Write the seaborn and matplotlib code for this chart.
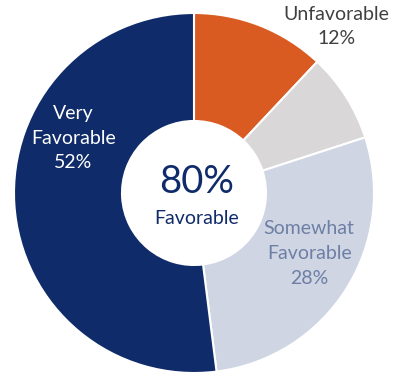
import matplotlib.pyplot as plt
import seaborn as sns

# data
segments = ["Unfavorable", "Neutral", "Somewhat Favorable", "Very Favorable"]
shares = [12, 8, 28, 52]
colors = ["#D95B22", "#D9D7D7", "#CFD5E3", "#0F2B69"]
favorable_share = shares[2] + shares[3]

# label placement (data coords of the unit pie) and label colours
label_text = ["Unfavorable\n12%", None, "Somewhat\nFavorable\n28%", "Very\nFavorable\n52%"]
label_pos = [(0.79, 0.925), None, (0.64, -0.335), (-0.67, 0.305)]
label_color = ["#404040", None, "#6D7FA5", "white"]

sns.set_theme(style="white")
plt.rcParams["font.family"] = ["Lato", "DejaVu Sans"]

fig = plt.figure(figsize=(3.95, 3.78), dpi=100)
ax = fig.add_axes([14 / 395, 5 / 378, 360 / 395, 360 / 378])

ax.pie(
    shares,
    colors=colors,
    startangle=90,
    counterclock=False,
    wedgeprops=dict(width=0.6, edgecolor="white", linewidth=1.5),
)
ax.set_xlim(-1, 1)
ax.set_ylim(-1, 1)

for txt, pos, col in zip(label_text, label_pos, label_color):
    if txt is None:
        continue
    ax.text(pos[0], pos[1], txt, ha="center", va="center", color=col,
            fontsize=14, linespacing=1.55)

ax.text(0.015, 0.06, f"{favorable_share}%", ha="center", va="center",
        color="#0F2B69", fontsize=27.5)
ax.text(0.015, -0.14, "Favorable", ha="center", va="center",
        color="#0F2B69", fontsize=14)

fig.savefig("out.png", dpi=100)
